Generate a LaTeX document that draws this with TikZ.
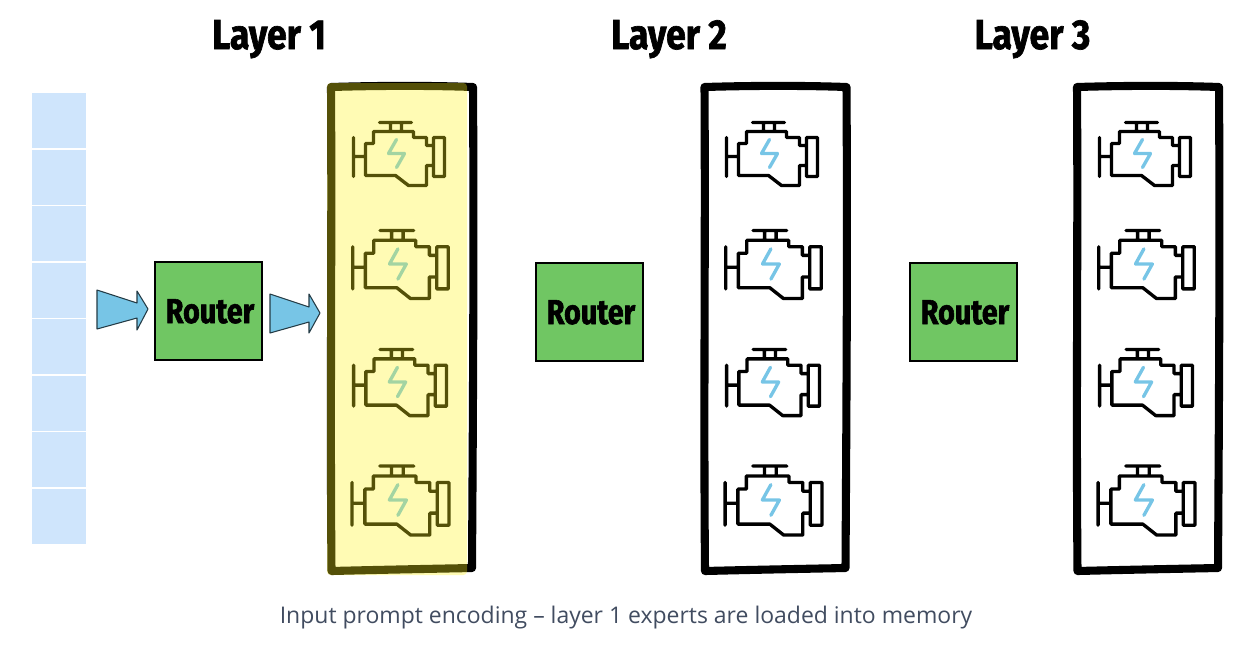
\documentclass[tikz,border=0pt]{standalone}
\usepackage{fontspec}
\setmainfont{Fira Sans}
\newfontfamily\captionfont{Open Sans}
\newfontfamily\handfont[BoldFeatures={FakeStretch=.83,FakeBold=1.6}]{Fira Sans}
\newfontfamily\titlefont[BoldFeatures={FakeStretch=.85,FakeBold=1.6}]{Fira Sans}
\definecolor{cellblue}{HTML}{CFE5FC}
\definecolor{routergreen}{HTML}{70C663}
\definecolor{arrowblue}{HTML}{77C5E6}
\definecolor{captiongray}{HTML}{414C60}
\definecolor{loadyellow}{HTML}{FFF41A}
\tikzset{
  frame/.style={line width=4.6pt, line join=round, line cap=round},
  router/.style={draw=black, line width=1.2pt, fill=routergreen, minimum width=60.6pt, minimum height=55.6pt, inner sep=0pt},
  routertext/.style={anchor=base, font=\handfont\fontsize{19.7}{20}\bfseries},
  title/.style={anchor=base, font=\titlefont\fontsize{23.8}{24}\bfseries},
  flow/.style={draw=black!70!arrowblue, fill=arrowblue, line width=.6pt, line join=round},
  engine/.pic={
    \draw[line width=1.9pt, line join=round, line cap=round]
      (-45,-16)--(-45,23) (-45,3)--(-33,3)
      (-33,-10)--(-25,-10)--(-25,-22)--(15,-22)--(15,-16)--(28,-16)--(28,-8)--(35,-8)--(35,12)--(28,12)--(28,32)--(10,32)--(-3,22)--(-33,22)--cycle
      (35,-16)--(46,-16)--(46,23)--(35,23)--cycle
      (-8,-22)--(-8,-31) (3,-22)--(3,-31) (-19,-31)--(13,-31);
    \draw[arrowblue, line width=1.9pt, line join=round, line cap=round] (-2,-14)--(-10,0)--(6,0)--(-2,14);
  }
}
\begin{document}
\begin{tikzpicture}[x=.02cm, y=-.02cm]
\useasboundingbox (0,0) rectangle (1254,650);
% input prompt cells
\foreach \i in {0,...,7}
  \fill[cellblue] (32,93+\i*56.5) rectangle (86,93+\i*56.5+55);
% arrows
\draw[flow] (97,290)--(137,303)--(137,291)--(148,309)--(137,330)--(137,318)--(97,329)--cycle;
\draw[flow] (270,294)--(309,307)--(309,294)--(320,313)--(309,333)--(309,322)--(270,333)--cycle;
% routers
\node[router] (router1) at (208.5,311) {};
\node[router] (router2) at (589.5,312) {};
\node[router] (router3) at (963.5,312) {};
\node[routertext] (label1) at (210,323) {Router};
\node[routertext] (label2) at (591,324) {Router};
\node[routertext] (label3) at (965,324) {Router};
% layer frames
\foreach \x in {331,704.5,1077}{
  \draw[frame] (\x,87) .. controls (\x+50,85.5) and (\x+100,85.5) .. (\x+142,87)
    .. controls (\x+143,250) and (\x+142,400) .. (\x+141,568)
    .. controls (\x+90,569) and (\x+40,570) .. (\x+.5,571)
    .. controls (\x-1,400) and (\x+1,250) .. cycle;
}
% engines
\foreach \x in {398.5,771.5,1144.5}
  \foreach \y/\dx/\sx/\sy in {153.5/0/1/1,264/1.5/1.05/1.08,382/1/1.02/1.05,500/1.5/1.065/1.095}
    \pic[xscale=\sx, yscale=\sy] at (\x+\dx,\y) {engine};
% layer 1 is loaded
\fill[loadyellow, opacity=.33, rounded corners=2pt] (327,83) rectangle (467,575);
% titles
\node[title] (layer1) at (269,49) {Layer 1};
\node[title] (layer2) at (669,49) {Layer 2};
\node[title] (layer3) at (1032.5,49) {Layer 3};
\node[anchor=base, text=captiongray, font=\captionfont\fontsize{13.07}{14}\selectfont] (caption) at (626,623) {Input prompt encoding – layer 1 experts are loaded into memory};
\end{tikzpicture}
\end{document}
